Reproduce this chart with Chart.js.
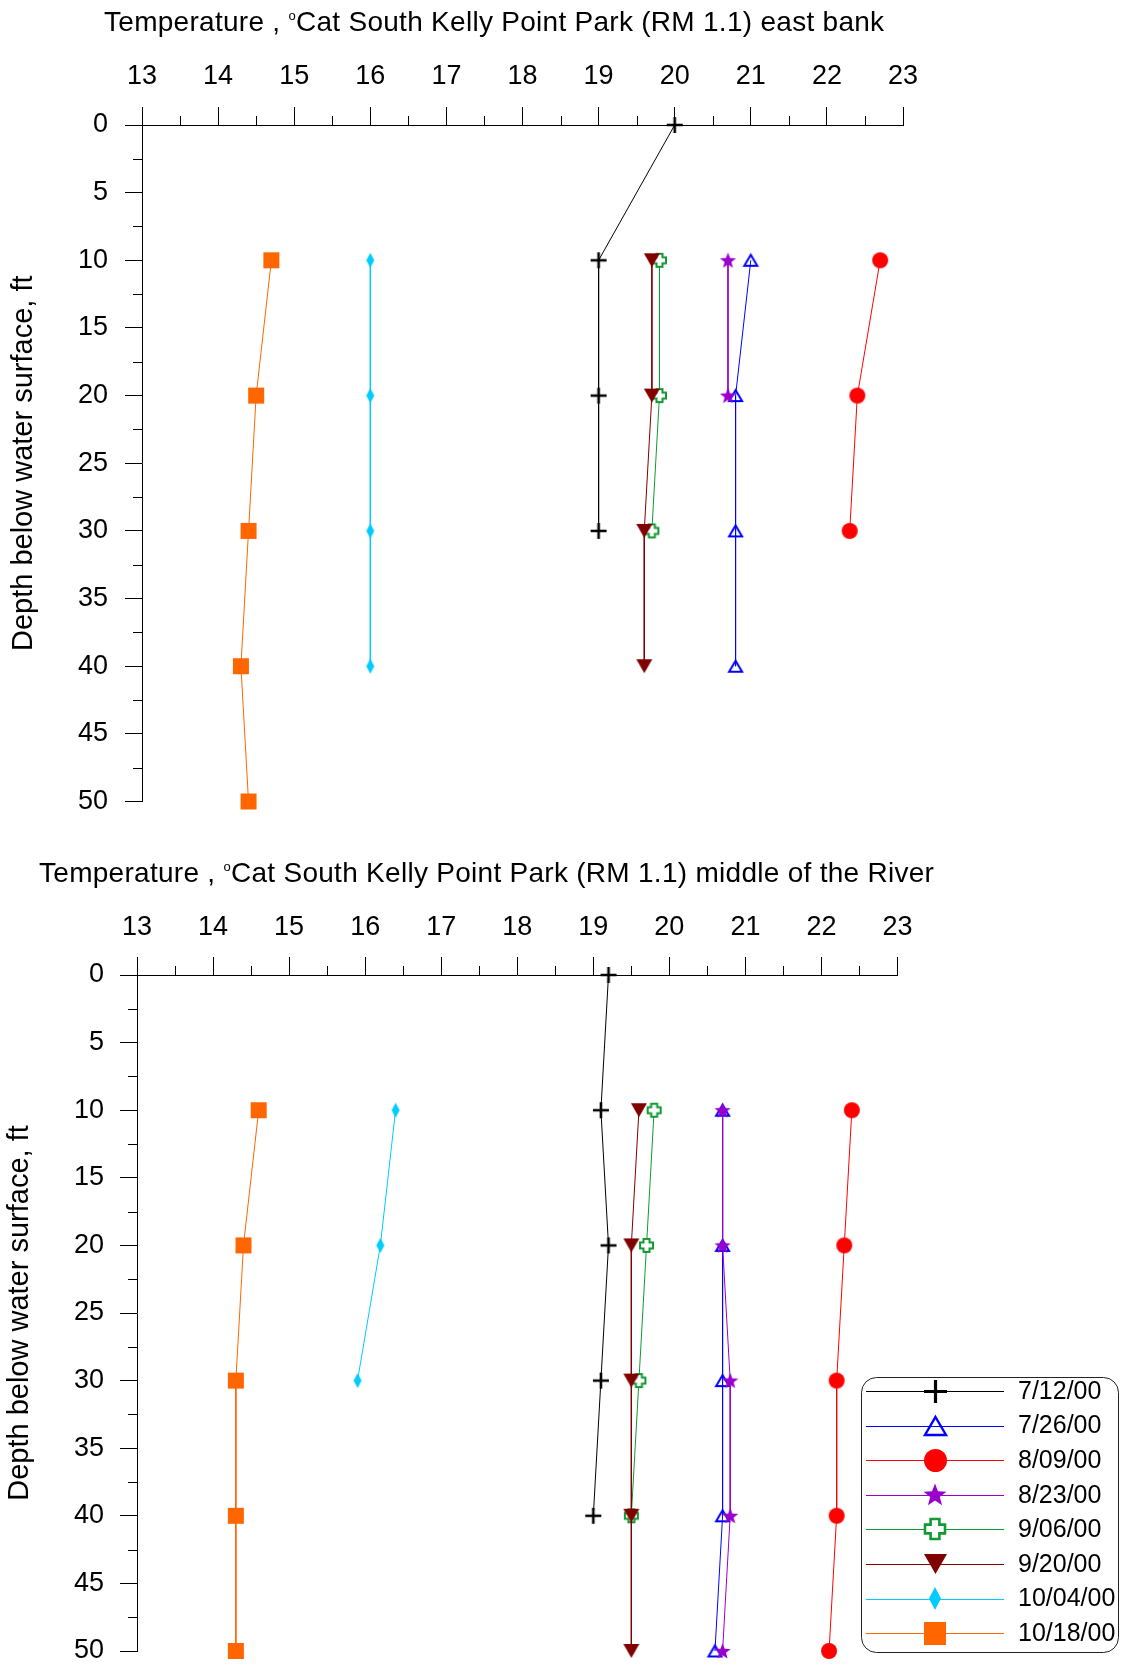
<!DOCTYPE html>
<html>
<head>
<meta charset="utf-8">
<script src="https://cdn.jsdelivr.net/npm/chart.js@4.4.1/dist/chart.umd.min.js"></script>
<style>
  html, body { margin: 0; padding: 0; background: #fff; width: 1121px; height: 1665px; overflow: hidden; }
  .title { position: absolute; font-family: 'Liberation Sans', Arial, sans-serif; font-size: 28px; line-height: 28px; letter-spacing: 0.28px; color: #000; white-space: nowrap; z-index: 2; }
  .deg { font-size: 13px; vertical-align: 11px; }
  canvas { position: absolute; left: 0; }
  #c1 { top: 0; }
  #c2 { top: 850px; }
</style>
</head>
<body>
<canvas id="c1" width="1121" height="840" style="width:1121px;height:840px"></canvas>
<canvas id="c2" width="1121" height="840" style="width:1121px;height:840px"></canvas>
<div class="title" style="left:104px;top:2px">Temperature , <span class="deg">o</span>Cat South Kelly Point Park (RM 1.1) east bank</div>
<div class="title" style="left:39px;top:853px">Temperature , <span class="deg">o</span>Cat South Kelly Point Park (RM 1.1) middle of the River</div>
<script>
// ---------------- data ----------------
const SERIES = ['7/12/00', '7/26/00', '8/09/00', '8/23/00', '9/06/00', '9/20/00', '10/04/00', '10/18/00'];
const X_TICKS = [13, 14, 15, 16, 17, 18, 19, 20, 21, 22, 23];
const DEPTH_TICKS = [0, 5, 10, 15, 20, 25, 30, 35, 40, 45, 50];

// East bank (depth ft, temperature °C)
const east_0712_depth = [0, 10, 20, 30];
const east_0712_temp  = [20.0, 19.0, 19.0, 19.0];
const east_0726_depth = [10, 20, 30, 40];
const east_0726_temp  = [21.0, 20.8, 20.8, 20.8];
const east_0809_depth = [10, 20, 30];
const east_0809_temp  = [22.7, 22.4, 22.3];
const east_0823_depth = [10, 20];
const east_0823_temp  = [20.7, 20.7];
const east_0906_depth = [10, 20, 30];
const east_0906_temp  = [19.8, 19.8, 19.7];
const east_0920_depth = [10, 20, 30, 40];
const east_0920_temp  = [19.7, 19.7, 19.6, 19.6];
const east_1004_depth = [10, 20, 30, 40];
const east_1004_temp  = [16.0, 16.0, 16.0, 16.0];
const east_1018_depth = [10, 20, 30, 40, 50];
const east_1018_temp  = [14.7, 14.5, 14.4, 14.3, 14.4];

// Middle of the river
const mid_0712_depth = [0, 10, 20, 30, 40];
const mid_0712_temp  = [19.2, 19.1, 19.2, 19.1, 19.0];
const mid_0726_depth = [10, 20, 30, 40, 50];
const mid_0726_temp  = [20.7, 20.7, 20.7, 20.7, 20.6];
const mid_0809_depth = [10, 20, 30, 40, 50];
const mid_0809_temp  = [22.4, 22.3, 22.2, 22.2, 22.1];
const mid_0823_depth = [10, 20, 30, 40, 50];
const mid_0823_temp  = [20.7, 20.7, 20.8, 20.8, 20.7];
const mid_0906_depth = [10, 20, 30, 40];
const mid_0906_temp  = [19.8, 19.7, 19.6, 19.5];
const mid_0920_depth = [10, 20, 30, 40, 50];
const mid_0920_temp  = [19.6, 19.5, 19.5, 19.5, 19.5];
const mid_1004_depth = [10, 20, 30];
const mid_1004_temp  = [16.4, 16.2, 15.9];
const mid_1018_depth = [10, 20, 30, 40, 50];
const mid_1018_temp  = [14.6, 14.4, 14.3, 14.3, 14.3];

const EAST = [
  [east_0712_depth, east_0712_temp], [east_0726_depth, east_0726_temp],
  [east_0809_depth, east_0809_temp], [east_0823_depth, east_0823_temp],
  [east_0906_depth, east_0906_temp], [east_0920_depth, east_0920_temp],
  [east_1004_depth, east_1004_temp], [east_1018_depth, east_1018_temp]
];
const MID = [
  [mid_0712_depth, mid_0712_temp], [mid_0726_depth, mid_0726_temp],
  [mid_0809_depth, mid_0809_temp], [mid_0823_depth, mid_0823_temp],
  [mid_0906_depth, mid_0906_temp], [mid_0920_depth, mid_0920_temp],
  [mid_1004_depth, mid_1004_temp], [mid_1018_depth, mid_1018_temp]
];

// ---------------- styles ----------------
const FONT = "'Liberation Sans', Arial, sans-serif";
const COLORS = ['#000000', '#0000ff', '#ff0000', '#9900cc', '#119933', '#800000', '#00ccff', '#ff6600'];
const KINDS  = ['plus', 'triUp', 'circle', 'star', 'plusOpen', 'triDown', 'diamond', 'square'];
const SIZE_CHART  = { plus: [16, 16], triUp: [15, 13], circle: [16, 16], star: [17, 16], plusOpen: [15, 15], triDown: [16, 14], diamond: [8, 15], square: [16, 16] };
const SIZE_LEGEND = { plus: [23, 23], triUp: [23, 20], circle: [23, 23], star: [24, 23], plusOpen: [22, 22], triDown: [23, 20], diamond: [12, 23], square: [22, 23] };

function makeMarker(kind, color, w, h, big) {
  const pad = 3;
  const c = document.createElement('canvas');
  c.width = Math.round(w + pad * 2);
  c.height = Math.round(h + pad * 2);
  const g = c.getContext('2d');
  g.translate(c.width / 2, c.height / 2);
  const hw = w / 2, hh = h / 2;
  g.fillStyle = color;
  g.strokeStyle = color;
  g.lineJoin = 'miter';
  g.beginPath();
  switch (kind) {
    case 'plus':
      g.lineWidth = big ? 3.2 : 2.6;
      g.moveTo(-hw, 0); g.lineTo(hw, 0);
      g.moveTo(0, -hh); g.lineTo(0, hh);
      g.stroke();
      break;
    case 'triUp':
      g.lineWidth = big ? 2.4 : 2;
      g.moveTo(0, -hh + 1); g.lineTo(hw - 1, hh - 1); g.lineTo(-hw + 1, hh - 1);
      g.closePath(); g.stroke();
      break;
    case 'circle':
      g.arc(0, 0, hw, 0, Math.PI * 2); g.fill();
      break;
    case 'star':
      for (let i = 0; i < 10; i++) {
        const r = (i % 2) ? hw * 0.42 : hw;
        const a = -Math.PI / 2 + i * Math.PI / 5;
        g.lineTo(Math.cos(a) * r, Math.sin(a) * r + hh * 0.08);
      }
      g.closePath(); g.fill();
      break;
    case 'plusOpen': {
      const t = w * 0.2;
      const e = hw - 1, f = hh - 1;
      g.lineWidth = big ? 2.6 : 2;
      g.fillStyle = '#fff';
      g.moveTo(-t, -f); g.lineTo(t, -f); g.lineTo(t, -t); g.lineTo(e, -t); g.lineTo(e, t); g.lineTo(t, t);
      g.lineTo(t, f); g.lineTo(-t, f); g.lineTo(-t, t); g.lineTo(-e, t); g.lineTo(-e, -t); g.lineTo(-t, -t);
      g.closePath(); g.fill(); g.stroke();
      break;
    }
    case 'triDown':
      g.moveTo(-hw, -hh); g.lineTo(hw, -hh); g.lineTo(0, hh);
      g.closePath(); g.fill();
      break;
    case 'diamond':
      g.moveTo(0, -hh); g.lineTo(hw, 0); g.lineTo(0, hh); g.lineTo(-hw, 0);
      g.closePath(); g.fill();
      break;
    case 'square':
      g.fillRect(-hw, -hh, w, h);
      break;
  }
  return c;
}

const chartMarkers = KINDS.map((k, i) => makeMarker(k, COLORS[i], SIZE_CHART[k][0], SIZE_CHART[k][1], false));
const legendMarkers = KINDS.map((k, i) => makeMarker(k, COLORS[i], SIZE_LEGEND[k][0], SIZE_LEGEND[k][1], true));

// ---------------- plugins ----------------
const minorTicks = {
  id: 'minorTicks',
  afterDraw(chart) {
    const { ctx, chartArea: a } = chart;
    const x = chart.scales.x, y = chart.scales.y;
    ctx.save();
    ctx.strokeStyle = '#000';
    ctx.lineWidth = 1;
    ctx.beginPath();
    for (let i = 0; i < X_TICKS.length - 1; i++) {
      const v = (X_TICKS[i] + X_TICKS[i + 1]) / 2;
      const px = Math.round(x.getPixelForValue(v)) + 0.5;
      ctx.moveTo(px, a.top); ctx.lineTo(px, a.top - 9);
    }
    for (let i = 0; i < DEPTH_TICKS.length - 1; i++) {
      const v = (DEPTH_TICKS[i] + DEPTH_TICKS[i + 1]) / 2;
      const py = Math.round(y.getPixelForValue(v)) + 0.5;
      ctx.moveTo(a.left, py); ctx.lineTo(a.left - 9, py);
    }
    ctx.stroke();
    ctx.restore();
  }
};

const legendBox = {
  id: 'legendBox',
  afterDraw(chart) {
    const ctx = chart.ctx;
    const L = 861, T = 527, R = 1118, B = 802;
    ctx.save();
    ctx.fillStyle = '#fff';
    ctx.strokeStyle = '#222';
    ctx.lineWidth = 1;
    ctx.beginPath();
    ctx.roundRect(L + 0.5, T + 0.5, R - L, B - T, 15);
    ctx.fill();
    ctx.stroke();
    chart.data.datasets.forEach((ds, i) => {
      const yy = 541 + i * 34.6;
      const ly = Math.round(yy) + 0.5;
      ctx.strokeStyle = ds.borderColor;
      ctx.lineWidth = 1;
      ctx.beginPath();
      ctx.moveTo(866, ly); ctx.lineTo(1004, ly);
      ctx.stroke();
      const m = legendMarkers[i];
      ctx.drawImage(m, Math.round(935 - m.width / 2), Math.round(yy - m.height / 2));
      ctx.fillStyle = '#000';
      ctx.font = '25px ' + FONT;
      ctx.textBaseline = 'middle';
      ctx.textAlign = 'left';
      ctx.fillText(ds.label, 1018, yy + 1);
    });
    ctx.restore();
  }
};

// ---------------- chart builder ----------------
function buildChart(canvas, rows, cfg) {
  const datasets = rows.map((r, i) => ({
    label: SERIES[i],
    data: r[0].map((dep, k) => ({ x: r[1][k], y: dep })),
    showLine: true,
    tension: 0,
    borderColor: COLORS[i],
    backgroundColor: COLORS[i],
    borderWidth: 1,
    pointStyle: chartMarkers[i],
    pointRadius: 8,
    pointHoverRadius: 8,
    clip: false,
    order: 20 - i
  }));
  const axisGrid = (tl) => ({ drawOnChartArea: false, drawTicks: true, tickLength: tl, color: '#000', lineWidth: 1 });
  return new Chart(canvas, {
    type: 'scatter',
    data: { datasets },
    options: {
      responsive: false,
      animation: false,
      events: [],
      layout: { padding: { left: 0, top: 0, right: cfg.padRight, bottom: cfg.padBottom } },
      plugins: { legend: { display: false }, tooltip: { enabled: false }, title: { display: false } },
      scales: {
        x: {
          type: 'linear', position: 'top', min: 13, max: 23,
          afterBuildTicks: s => { s.ticks = X_TICKS.map(v => ({ value: v })); },
          afterFit: s => { s.height = cfg.xHeight; },
          grid: axisGrid(18),
          border: { display: true, color: '#000', width: 1 },
          ticks: { padding: cfg.xPad, color: '#000', autoSkip: false, maxRotation: 0,
                   font: { family: FONT, size: 27 } }
        },
        y: {
          type: 'linear', position: 'left', min: 0, max: 50, reverse: true,
          afterBuildTicks: s => { s.ticks = DEPTH_TICKS.map(v => ({ value: v })); },
          afterFit: s => { s.width = cfg.yWidth; },
          grid: axisGrid(17),
          border: { display: true, color: '#000', width: 1 },
          ticks: { padding: cfg.yPad, color: '#000', autoSkip: false,
                   font: { family: FONT, size: 27, lineHeight: 1 } },
          title: { display: true, text: 'Depth below water surface, ft', color: '#000',
                   font: { family: FONT, size: 29 }, padding: { top: cfg.yTitlePad, bottom: 0 } }
        }
      }
    },
    plugins: cfg.legend ? [minorTicks, legendBox] : [minorTicks]
  });
}

buildChart(document.getElementById('c1'), EAST,
  { padRight: 218, padBottom: 38.5, xHeight: 125, yWidth: 142, xPad: 14, yPad: 17, yTitlePad: 7, legend: false });
buildChart(document.getElementById('c2'), MID,
  { padRight: 223.5, padBottom: 39, xHeight: 125, yWidth: 137, xPad: 13, yPad: 16, yTitlePad: 3, legend: true });
</script>
</body>
</html>
